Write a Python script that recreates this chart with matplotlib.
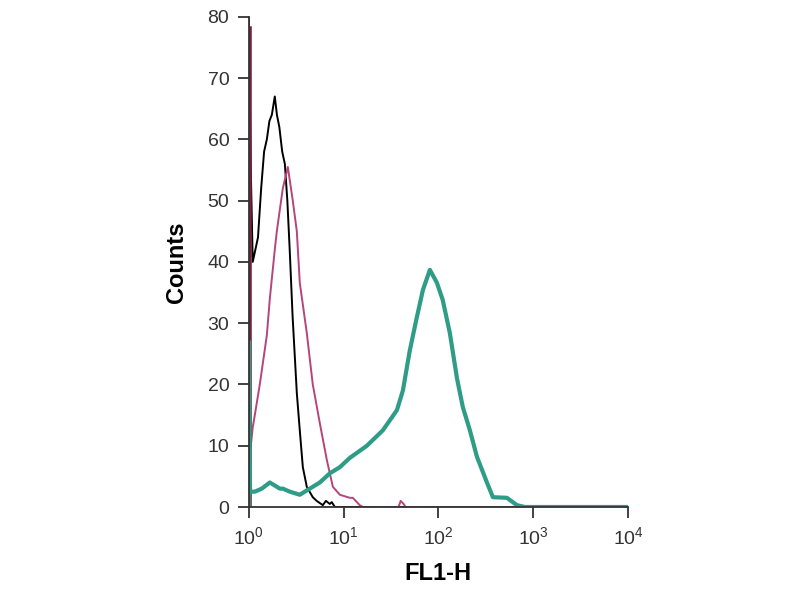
import matplotlib
matplotlib.use('Agg')
import matplotlib.pyplot as plt
from matplotlib.ticker import LogFormatterMathtext, NullLocator

plt.rcParams['font.family'] = ['Liberation Sans', 'DejaVu Sans']

# FL1-H values and counts
black_x = [1.0, 1.0, 1.05, 1.1, 1.25, 1.35, 1.45, 1.55, 1.65, 1.75, 1.88, 1.98, 2.1, 2.25, 2.4, 2.55, 2.7,
           2.9, 3.21, 3.45, 3.715, 4.09, 4.73, 5.2, 6.04, 6.5, 7.16, 7.5, 8.09, 10000]
black_y = [0, 80, 55, 40, 44, 52, 58, 60, 63, 64, 67, 64, 62, 58, 56, 50, 42,
           31, 18.6, 12.5, 6.5, 3.3, 1.6, 1, 0.3, 1, 0.5, 0.8, 0, 0]

pink_x = [1.0, 1.0, 1.02, 1.05, 1.1, 1.157, 1.306, 1.549, 1.666, 1.88, 1.975, 2.285, 2.58, 2.91, 3.21,
          3.45, 4.09, 4.73, 5.61, 6.65, 7.70, 9.13, 11.6, 12.5, 14.8, 16, 38, 40, 43, 45, 10000]
pink_y = [0, 78, 11, 10, 13, 15, 20, 28, 34, 42, 45, 52, 55.5, 50, 45,
          36.6, 28.4, 20, 13.7, 7.7, 3.3, 2, 1.5, 1.5, 0.3, 0, 0, 1, 0.5, 0, 0]

teal_x = [1.0, 1.0, 1.03, 1.157, 1.372, 1.666, 2.125, 2.285, 2.71, 3.45, 4.40, 5.61, 7.16, 9.13, 11.6,
          17.6, 25.9, 36.5, 42.2, 50.0, 59.3, 68.6, 81.3, 96.4, 111, 132, 157, 181, 215, 255, 325,
          376, 528, 674, 818, 10000]
teal_y = [0, 27, 2.5, 2.5, 3, 4, 3, 3, 2.5, 2, 3, 4, 5.5, 6.5, 8,
          10, 12.5, 15.8, 19, 25.6, 31, 35.4, 38.7, 36.6, 33.8, 28.4, 21, 16.3, 12.5, 8.2, 4,
          1.6, 1.5, 0.3, 0, 0]

y_ticks = [0, 10, 20, 30, 40, 50, 60, 70, 80]
x_ticks = [1, 10, 100, 1000, 10000]

fig = plt.figure(figsize=(8, 6), dpi=100)
ax = fig.add_axes([0.311, 0.155, 0.474, 0.817])

ax.plot(black_x, black_y, color='black', lw=1.4)
ax.plot(pink_x, pink_y, color='#b5457a', lw=1.4)
ax.plot([1, 1], [0, 78], color='#7a1f3d', lw=4)
ax.plot(teal_x, teal_y, color='#2e9c86', lw=3)

ax.set_xscale('log')
ax.set_xlim(1, 10000)
ax.set_ylim(0, 80)
ax.set_xticks(x_ticks)
ax.xaxis.set_major_formatter(LogFormatterMathtext())
ax.xaxis.set_minor_locator(NullLocator())
ax.set_yticks(y_ticks)

for s in ['top', 'right']:
    ax.spines[s].set_visible(False)
for s in ['left', 'bottom']:
    ax.spines[s].set_color('#333333')
    ax.spines[s].set_linewidth(1.3)

ax.tick_params(direction='out', length=8, width=1.3, colors='#333333', labelsize=14, pad=6)
ax.set_xlabel('FL1-H', fontsize=17, fontweight='bold', labelpad=10)
ax.set_ylabel('Counts', fontsize=17, fontweight='bold', labelpad=14)

fig.savefig('out.png', dpi=100)
